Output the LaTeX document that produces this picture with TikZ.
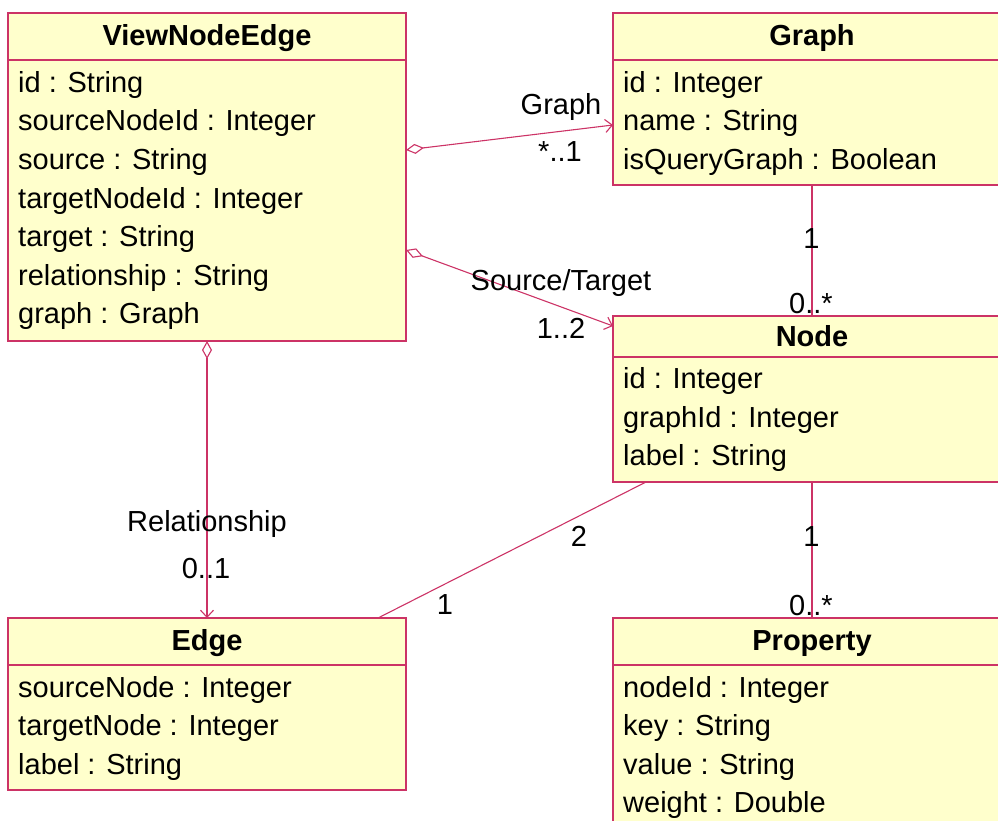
\documentclass[tikz,border=0pt]{standalone}
\usepackage{fontspec}
\setmainfont{Liberation Sans}
\usetikzlibrary{arrows.meta,calc}
\definecolor{umlborder}{RGB}{204,51,102}
\definecolor{umlfill}{RGB}{255,255,204}
\tikzset{
  classbox/.style={draw=umlborder, fill=umlfill, line width=1.1pt, rectangle, inner sep=0pt, outer sep=0pt, anchor=north west, minimum width=398pt},
  sepline/.style={draw=umlborder, line width=1.1pt},
  attr/.style={anchor=base west, inner sep=0pt, font=\fontsize{29}{35}\selectfont},
  ctitle/.style={anchor=base, inner sep=0pt, font=\fontsize{29}{35}\selectfont\bfseries},
  lbl/.style={anchor=base, inner sep=0pt, font=\fontsize{29}{35}\selectfont},
  assoc/.style={draw=umlborder, line width=1.1pt},
  agg/.style={assoc, {Diamond[open,fill=white,length=18pt,width=10pt]}-{Straight Barb[length=7pt,width=13pt]}},
}
\begin{document}
\begin{tikzpicture}[x=1pt,y=-1pt]
\useasboundingbox (0,0) rectangle (998,821);
\clip (0,0) rectangle (998,821);

% ViewNodeEdge
\node[classbox, minimum height=328pt] (vne) at (8,13) {};
\draw[sepline] ($(vne.north west)+(0,47)$) -- ($(vne.north east)+(0,47)$);
\node[ctitle] (vnet) at (207,45.5) {ViewNodeEdge};
\node[attr] (vne1) at (18,92.5) {id : String};
\node[attr] (vne2) at (18,131) {sourceNodeId : Integer};
\node[attr] (vne3) at (18,169.5) {source : String};
\node[attr] (vne4) at (18,208) {targetNodeId : Integer};
\node[attr] (vne5) at (18,246.5) {target : String};
\node[attr] (vne6) at (18,285) {relationship : String};
\node[attr] (vne7) at (18,323.5) {graph : Graph};

% Graph
\node[classbox, minimum height=172pt] (graph) at (613,13) {};
\draw[sepline] ($(graph.north west)+(0,47)$) -- ($(graph.north east)+(0,47)$);
\node[ctitle] (grapht) at (812,45.5) {Graph};
\node[attr] (graph1) at (623,92.5) {id : Integer};
\node[attr] (graph2) at (623,131) {name : String};
\node[attr] (graph3) at (623,169.5) {isQueryGraph : Boolean};

% Node
\node[classbox, minimum height=166pt] (node) at (613,316) {};
\draw[sepline] ($(node.north west)+(0,41)$) -- ($(node.north east)+(0,41)$);
\node[ctitle] (nodet) at (812,346.5) {Node};
\node[attr] (node1) at (623,388.5) {id : Integer};
\node[attr] (node2) at (623,427) {graphId : Integer};
\node[attr] (node3) at (623,465.5) {label : String};

% Edge
\node[classbox, minimum height=172pt] (edge) at (8,618) {};
\draw[sepline] ($(edge.north west)+(0,47)$) -- ($(edge.north east)+(0,47)$);
\node[ctitle] (edget) at (207,650) {Edge};
\node[attr] (edge1) at (18,697) {sourceNode : Integer};
\node[attr] (edge2) at (18,735.5) {targetNode : Integer};
\node[attr] (edge3) at (18,774) {label : String};

% Property
\node[classbox, minimum height=212pt] (prop) at (613,618) {};
\draw[sepline] ($(prop.north west)+(0,47)$) -- ($(prop.north east)+(0,47)$);
\node[ctitle] (propt) at (812,650) {Property};
\node[attr] (prop1) at (623,697) {nodeId : Integer};
\node[attr] (prop2) at (623,735.5) {key : String};
\node[attr] (prop3) at (623,774) {value : String};
\node[attr] (prop4) at (623,812.5) {weight : Double};

% Connectors
\draw[agg] ($(vne.north east)+(0,137)$) -- ($(graph.north west)+(0,112)$);
\draw[agg] ($(vne.north east)+(0,237)$) -- ($(node.north west)+(0,10)$);
\draw[agg] (vne.south) -- (edge.north);
\draw[assoc] (graph.south) -- (node.north);
\draw[assoc] (node.south) -- (prop.north);
\draw[assoc] ($(node.south west)+(33,0)$) -- ($(edge.north east)+(-28,0)$);

% Labels
\node[lbl] (l1) at (561,115) {Graph};
\node[lbl] (l2) at (560,162) {*..1};
\node[lbl] (l3) at (561,290) {Source/Target};
\node[lbl] (l4) at (561,338) {1..2};
\node[lbl] (l5) at (207,531.5) {Relationship};
\node[lbl] (l6) at (206,578.5) {0..1};
\node[lbl] (l7) at (811.5,248) {1};
\node[lbl] (l8) at (811,313) {0..*};
\node[lbl] (l9) at (811.5,546) {1};
\node[lbl] (l10) at (811,615) {0..*};
\node[lbl] (l11) at (579,546) {2};
\node[lbl] (l12) at (445,614) {1};
\end{tikzpicture}
\end{document}
